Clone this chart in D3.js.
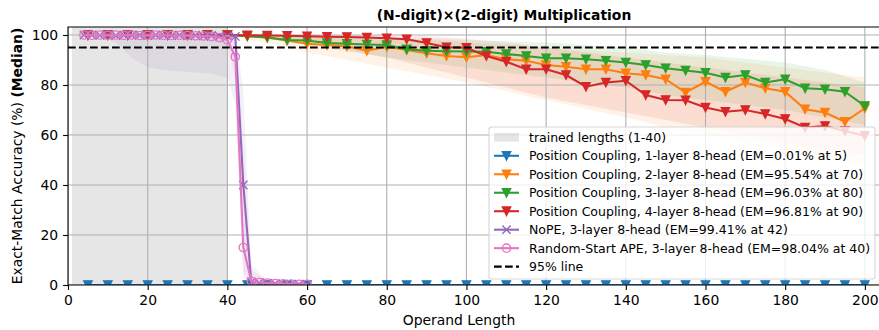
<!DOCTYPE html>
<html>
<head>
<meta charset="utf-8">
<script src="https://cdn.jsdelivr.net/npm/d3@7"></script>
<style>
  body { margin: 0; background: #fff; }
  svg { display: block; font-family: "DejaVu Sans", sans-serif; }
</style>
</head>
<body>
<svg id="chart" width="879" height="330"></svg>
<script>
const lengths = [5, 10, 15, 20, 25, 30, 35, 40, 45, 50, 55, 60, 65, 70, 75, 80, 85, 90, 95, 100,
  105, 110, 115, 120, 125, 130, 135, 140, 145, 150, 155, 160, 165, 170, 175, 180, 185, 190, 195, 200];

const pc1Layer = [0.01, 0, 0, 0, 0, 0, 0, 0, 0, 0, 0, 0, 0, 0, 0, 0, 0, 0, 0, 0,
  0, 0, 0, 0, 0, 0, 0, 0, 0, 0, 0, 0, 0, 0, 0, 0, 0, 0, 0, 0];
const pc2Layer = [100, 100, 100, 100, 100, 100, 100, 100, 99.6, 99.0, 97.8, 96.5, 96.0, 95.5, 93.7, 95.3, 94.0, 92.7, 91.6, 91.1,
  92.0, 90.3, 89.7, 88.0, 87.3, 86.3, 86.3, 84.7, 84.0, 82.3, 77.0, 81.3, 77.3, 81.0, 78.7, 77.3, 70.3, 69.0, 65.3, 70.7];
const pc3Layer = [100, 100, 100, 100, 100, 100, 100, 100, 99.5, 99.0, 98.0, 97.8, 96.8, 96.5, 96.2, 96.0, 94.3, 93.7, 93.5, 93.4,
  93.3, 92.4, 91.6, 90.7, 90.7, 90.3, 89.7, 89.0, 88.0, 86.7, 85.8, 84.9, 83.0, 84.0, 81.0, 82.3, 78.7, 78.3, 77.3, 71.6];
const pc4Layer = [100, 100, 100, 100, 100, 100, 100, 100, 99.9, 99.8, 99.7, 99.5, 99.3, 99.2, 99.0, 98.7, 98.3, 96.8, 95.1, 94.9,
  91.6, 89.3, 86.3, 86.3, 84.0, 79.3, 81.0, 81.7, 76.0, 74.0, 73.9, 71.0, 69.3, 70.0, 68.4, 66.4, 63.0, 63.6, 61.6, 59.7];

const baselineLengths = [4, 6, 8, 10, 12, 14, 16, 18, 20, 22, 24, 26, 28, 30, 32, 34, 36, 38, 40,
  42, 44, 46, 48, 50, 52, 54, 56, 58, 60];
const nopeAcc = [100, 100, 99.9, 100, 99.8, 100, 99.9, 100, 99.8, 100, 99.9, 99.8, 100, 99.7, 99.9, 99.6, 99.8, 99.5, 99.6,
  99.41, 40, 1.2, 0.9, 0.7, 0.5, 0.4, 0.3, 0.3, 0.2];
const apeAcc = [100, 99.9, 100, 99.9, 100, 99.9, 100, 99.8, 99.9, 100, 99.9, 99.8, 99.9, 99.8, 99.7, 99.6, 99.4, 99.0, 98.04,
  91.3, 15, 1.5, 1.0, 0.8, 0.6, 0.5, 0.4, 0.3, 0.3];

// spread bands (faint fills)
const bandLengths = [5, 20, 40, 50, 60, 70, 80, 90, 100, 110, 120, 130, 140, 150, 160, 170, 180, 190, 200];
const pc2Lo = [100, 100, 99.5, 97, 93, 90, 87, 84, 81, 77.5, 74, 70.5, 67, 63, 60, 57, 54, 51, 48];
const pc2Hi = [100, 100, 100, 100, 99.5, 99, 98.5, 98, 97, 96, 95, 94, 93, 92, 91, 89, 87, 85, 83];
const pc3Lo = [100, 100, 100, 98.5, 96, 93.5, 91, 89, 87, 85, 83, 81, 79, 76, 74, 72, 70, 67, 64];
const pc3Hi = [100, 100, 100, 100, 100, 99.5, 99, 98.5, 98, 97.5, 97, 96, 95, 93, 92, 90.5, 89, 86, 81];
const pc4Lo = [100, 100, 100, 99, 97, 94, 91, 87, 83, 79, 75, 72, 69, 66, 63, 60, 57, 54, 52];
const pc4Hi = [100, 100, 100, 100, 100, 100, 100, 99.5, 98.5, 97, 95, 93, 91, 89, 87, 85, 83, 81, 79];

const baselineBandLengths = [4, 8, 12, 16, 20, 24, 28, 32, 36, 40, 42, 44, 46, 50, 60];
const nopeLo = [100, 99.5, 97, 91, 87, 86, 85.5, 85, 84.5, 83, 72, 5, 0, 0, 0];
const nopeHi = [100, 100, 100, 100, 100, 100, 100, 100, 100, 100, 100, 78, 6, 2, 1];
const apeLo = [99.5, 99.5, 99, 99, 99, 99, 99, 98.5, 97.5, 96, 82, 3, 0, 0, 0];
const apeHi = [100, 100, 100, 100, 100, 100, 100, 100, 100, 99.5, 99, 55, 8, 2, 1];

const trainedLengths = [1, 40];
const thresholdLine = 95;
const xTicks = [0, 20, 40, 60, 80, 100, 120, 140, 160, 180, 200];
const yTicks = [0, 20, 40, 60, 80, 100];

const legendLabels = [
  'trained lengths (1-40)',
  'Position Coupling, 1-layer 8-head (EM=0.01% at 5)',
  'Position Coupling, 2-layer 8-head (EM=95.54% at 70)',
  'Position Coupling, 3-layer 8-head (EM=96.03% at 80)',
  'Position Coupling, 4-layer 8-head (EM=96.81% at 90)',
  'NoPE, 3-layer 8-head (EM=99.41% at 42)',
  'Random-Start APE, 3-layer 8-head (EM=98.04% at 40)',
  '95% line'
];

class AccuracyChart {
  constructor() {
    this.svg = d3.select('#chart');
    this.left = 68;
    this.right = 882;
    this.top = 27;
    this.bottom = 285;

    this.x = d3.scaleLinear().domain([0, 204.3]).range([this.left, this.right]);
    this.y = d3.scaleLinear().domain([0, 103.2]).range([this.bottom, this.top]);

    this.series = [
      { xs: lengths, ys: pc1Layer, color: '#1f77b4', marker: 'v' },
      { xs: lengths, ys: pc2Layer, color: '#ff7f0e', marker: 'v', band: [bandLengths, pc2Lo, pc2Hi] },
      { xs: lengths, ys: pc3Layer, color: '#2ca02c', marker: 'v', band: [bandLengths, pc3Lo, pc3Hi] },
      { xs: lengths, ys: pc4Layer, color: '#d62728', marker: 'v', band: [bandLengths, pc4Lo, pc4Hi] },
      { xs: baselineLengths, ys: nopeAcc, color: '#9467bd', marker: 'x', band: [baselineBandLengths, nopeLo, nopeHi] },
      { xs: baselineLengths, ys: apeAcc, color: '#e377c2', marker: 'o', band: [baselineBandLengths, apeLo, apeHi] }
    ];

    this.draw();
  }

  markerPath(kind, s) {
    const h = s / 2;
    if (kind === 'v') return `M0,${h}L${-h},${-h}L${h},${-h}Z`;
    if (kind === 'x') return `M${-h},${-h}L${h},${h}M${-h},${h}L${h},${-h}`;
    return null;
  }

  addMarkers(g, points, s, kind, color) {
    if (kind === 'o') {
      g.selectAll(null).data(points).enter().append('circle')
        .attr('cx', d => d[0]).attr('cy', d => d[1]).attr('r', s / 2)
        .attr('fill', 'none').attr('stroke', color).attr('stroke-width', 1.4);
    } else {
      g.selectAll(null).data(points).enter().append('path')
        .attr('transform', d => `translate(${d[0]},${d[1]})`)
        .attr('d', this.markerPath(kind, s))
        .attr('fill', kind === 'v' ? color : 'none')
        .attr('stroke', color).attr('stroke-width', 1.4);
    }
  }

  draw() {
    const { x, y, svg } = this;

    svg.append('defs').append('clipPath').attr('id', 'plot-clip')
      .append('rect')
      .attr('x', this.left).attr('y', this.top)
      .attr('width', this.right - this.left).attr('height', this.bottom - this.top);

    const plot = svg.append('g').attr('clip-path', 'url(#plot-clip)');

    plot.append('rect')
      .attr('x', x(trainedLengths[0])).attr('y', this.top)
      .attr('width', x(trainedLengths[1]) - x(trainedLengths[0]))
      .attr('height', this.bottom - this.top)
      .attr('fill', '#808080').attr('fill-opacity', 0.2);

    this.series.forEach(s => {
      if (!s.band) return;
      const [bx, lo, hi] = s.band;
      const area = d3.area()
        .x((d, i) => x(bx[i]))
        .y0((d, i) => y(lo[i]))
        .y1((d, i) => y(hi[i]));
      plot.append('path').datum(bx).attr('d', area)
        .attr('fill', s.color).attr('fill-opacity', 0.1);
    });

    // grid
    plot.selectAll('.gx').data(xTicks).enter().append('line')
      .attr('x1', d => x(d)).attr('x2', d => x(d))
      .attr('y1', this.top).attr('y2', this.bottom)
      .attr('stroke', '#b0b0b0').attr('stroke-width', 1.1);
    plot.selectAll('.gy').data(yTicks).enter().append('line')
      .attr('x1', this.left).attr('x2', this.right)
      .attr('y1', d => y(d)).attr('y2', d => y(d))
      .attr('stroke', '#b0b0b0').attr('stroke-width', 1.1);

    const line = d3.line().x(d => d[0]).y(d => d[1]);
    this.series.forEach(s => {
      const pts = s.xs.map((v, i) => [x(v), y(s.ys[i])]);
      plot.append('path').datum(pts).attr('d', line)
        .attr('fill', 'none').attr('stroke', s.color).attr('stroke-width', 2.1);
      this.addMarkers(plot.append('g'), pts, 8.3, s.marker, s.color);
    });

    plot.append('line')
      .attr('x1', this.left).attr('x2', this.right)
      .attr('y1', y(thresholdLine)).attr('y2', y(thresholdLine))
      .attr('stroke', '#000').attr('stroke-width', 2.1)
      .attr('stroke-dasharray', '7.7,3.3');

    // axes
    const xAxis = svg.append('g').attr('transform', `translate(0,${this.bottom})`)
      .call(d3.axisBottom(x).tickValues(xTicks).tickSize(4.9).tickPadding(4.9));
    const yAxis = svg.append('g').attr('transform', `translate(${this.left},0)`)
      .call(d3.axisLeft(y).tickValues(yTicks).tickSize(4.9).tickPadding(4.9));
    [xAxis, yAxis].forEach(a => {
      a.select('.domain').remove();
      a.selectAll('line').attr('stroke', '#000').attr('stroke-width', 1.1);
      a.selectAll('text').attr('font-size', '13.9px').attr('fill', '#000')
        .attr('font-family', '"DejaVu Sans", sans-serif');
    });

    svg.append('path')
      .attr('d', `M${this.right + 5},${this.top}H${this.left}V${this.bottom}H${this.right + 5}`)
      .attr('fill', 'none').attr('stroke', '#000').attr('stroke-width', 1.1);

    svg.append('text')
      .attr('x', 504).attr('y', 20).attr('text-anchor', 'middle')
      .attr('font-size', '13.9px').attr('font-weight', 'bold')
      .text('(N-digit)×(2-digit) Multiplication');

    svg.append('text')
      .attr('x', 459).attr('y', 325).attr('text-anchor', 'middle')
      .attr('font-size', '13.9px')
      .text('Operand Length');

    const yl = svg.append('text')
      .attr('transform', `translate(22,${(this.top + this.bottom) / 2}) rotate(-90)`)
      .attr('text-anchor', 'middle').attr('font-size', '13.9px');
    yl.append('tspan').text('Exact-Match Accuracy (%) ');
    yl.append('tspan').attr('font-weight', 'bold').text('(Median)');

    this.drawLegend();
  }

  drawLegend() {
    const box = { x: 489, y: 127, w: 386, h: 152 };
    const g = this.svg.append('g');
    g.append('rect')
      .attr('x', box.x).attr('y', box.y).attr('width', box.w).attr('height', box.h)
      .attr('rx', 2.5)
      .attr('fill', '#fff').attr('fill-opacity', 0.8)
      .attr('stroke', '#cccccc').attr('stroke-opacity', 0.8).attr('stroke-width', 1.1);

    const rowY = i => 137.3 + i * 18.48;
    const hx0 = 494, hx1 = 519;

    legendLabels.forEach((label, i) => {
      const cy = rowY(i);
      if (i === 0) {
        g.append('rect').attr('x', hx0).attr('y', cy - 4.4).attr('width', hx1 - hx0).attr('height', 8.8)
          .attr('fill', '#808080').attr('fill-opacity', 0.2);
      } else if (i === legendLabels.length - 1) {
        g.append('line').attr('x1', hx0).attr('x2', hx1).attr('y1', cy).attr('y2', cy)
          .attr('stroke', '#000').attr('stroke-width', 2.1).attr('stroke-dasharray', '7.7,3.3');
      } else {
        const s = this.series[i - 1];
        g.append('line').attr('x1', hx0).attr('x2', hx1).attr('y1', cy).attr('y2', cy)
          .attr('stroke', s.color).attr('stroke-width', 2.1);
        this.addMarkers(g.append('g'), [[(hx0 + hx1) / 2, cy]], 8.3, s.marker, s.color);
      }
      g.append('text')
        .attr('x', 529).attr('y', cy + 4.5)
        .attr('font-size', '12.5px')
        .text(label);
    });
  }
}

window.accuracyChart = new AccuracyChart();
</script>
</body>
</html>
